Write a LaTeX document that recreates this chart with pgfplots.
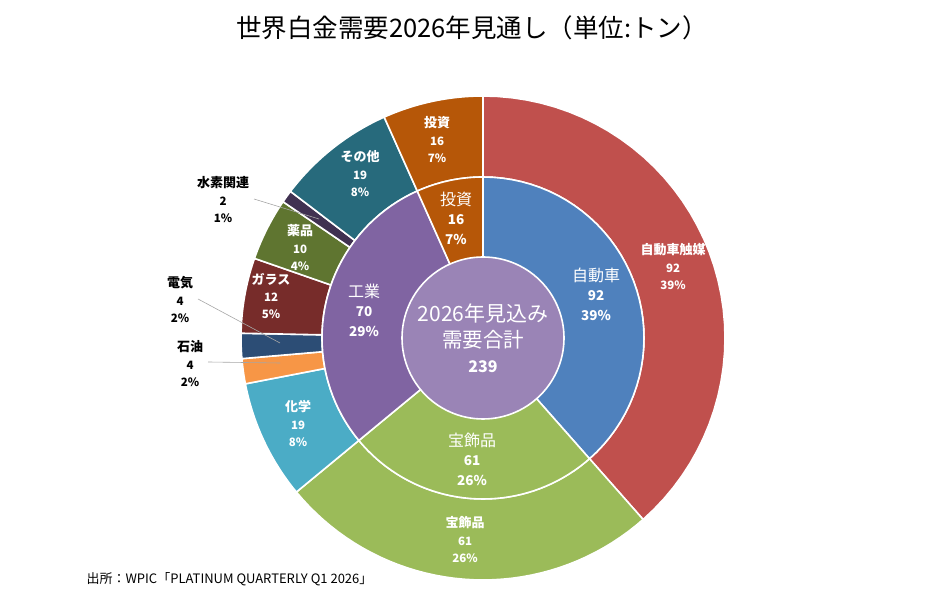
\documentclass[border=0pt]{standalone}
\usepackage{pgfplots}
\pgfplotsset{compat=1.18}
\usepackage{fontspec}
\setmainfont{Noto Sans CJK JP}
\definecolor{cCat}{HTML}{C0504D}
\definecolor{cAuto}{HTML}{4F81BD}
\definecolor{cJew}{HTML}{9BBB59}
\definecolor{cChem}{HTML}{4BACC6}
\definecolor{cOil}{HTML}{F79646}
\definecolor{cElec}{HTML}{2C4D75}
\definecolor{cGlass}{HTML}{772C2A}
\definecolor{cMed}{HTML}{5F7530}
\definecolor{cHyd}{HTML}{403151}
\definecolor{cOther}{HTML}{276A7C}
\definecolor{cInv}{HTML}{B65708}
\definecolor{cInd}{HTML}{8064A2}
\definecolor{cCtr}{HTML}{9A84B6}
% sector: #1 start cumulative value, #2 end cumulative value (total 239), #3 inner r, #4 outer r, #5 colour
\newcommand{\sector}[5]{%
\addplot[fill=#5, draw=white, line width=1.6pt, domain=0:81, samples=82, variable=\t]
 ({(\t<40.5 ? #4 : #3)*cos(90-(\t<40.5 ? (#1)+((#2)-(#1))*\t/40 : (#2)-((#2)-(#1))*(\t-41)/40)*360/239)},
  {(\t<40.5 ? #4 : #3)*sin(90-(\t<40.5 ? (#1)+((#2)-(#1))*\t/40 : (#2)-((#2)-(#1))*(\t-41)/40)*360/239)}) -- cycle;
}
\newcommand{\labO}[6]{% x y name value pct colour
\node[text=#6, font=\bfseries\fontsize{13}{14}\selectfont] at (axis cs:#1,#2) {#3};
\node[text=#6, font=\bfseries\fontsize{11.5}{12}\selectfont] at (axis cs:#1,#2-18) {#4};
\node[text=#6, font=\bfseries\fontsize{11.5}{12}\selectfont] at (axis cs:#1,#2-35) {#5};
}
\newcommand{\labI}[5]{% x y name value pct
\node[text=white, font=\fontsize{16}{17}\selectfont] at (axis cs:#1,#2) {#3};
\node[text=white, font=\bfseries\fontsize{13.5}{14}\selectfont] at (axis cs:#1,#2-21) {#4};
\node[text=white, font=\bfseries\fontsize{13.5}{14}\selectfont] at (axis cs:#1,#2-40) {#5};
}
\begin{document}
\begin{tikzpicture}
\useasboundingbox (0,0) rectangle (945pt,615pt);
\begin{axis}[
  at={(0pt,0pt)}, anchor=south west,
  x=1pt, y=1pt, scale only axis,
  xmin=-483, xmax=462, ymin=-277, ymax=338,
  enlargelimits=false, hide axis, clip=false]
% outer ring (values in tonnes, cumulative clockwise from 12 o'clock)
\sector{0}{92}{161}{242}{cCat}     % 自動車触媒 92
\sector{92}{153}{161}{242}{cJew}   % 宝飾品 61
\sector{153}{172}{161}{242}{cChem} % 化学 19
\sector{172}{176}{161}{242}{cOil}  % 石油 4
\sector{176}{180}{161}{242}{cElec} % 電気 4
\sector{180}{192}{161}{242}{cGlass}% ガラス 12
\sector{192}{202}{161}{242}{cMed}  % 薬品 10
\sector{202}{204}{161}{242}{cHyd}  % 水素関連 2
\sector{204}{223}{161}{242}{cOther}% その他 19
\sector{223}{239}{161}{242}{cInv}  % 投資 16
% inner ring
\sector{0}{92}{0}{161}{cAuto}      % 自動車 92
\sector{92}{153}{0}{161}{cJew}     % 宝飾品 61
\sector{153}{223}{0}{161}{cInd}    % 工業 70
\sector{223}{239}{0}{161}{cInv}    % 投資 16
% centre disc
\addplot[fill=cCtr, draw=white, line width=1.6pt, domain=0:239, samples=121, variable=\t]
 ({81*cos(90-\t*360/239)},{81*sin(90-\t*360/239)}) -- cycle;
% leader lines
\addplot[gray!70, line width=0.6pt] coordinates {(-229,139) (-164,119)};
\addplot[gray!70, line width=0.6pt] coordinates {(-285,39) (-203,-5)};
\addplot[gray!70, line width=0.6pt] coordinates {(-275,-24) (-203,-25)};
% outer labels
\labO{-46}{215}{投資}{16}{7\%}{white}
\labO{-123}{181}{その他}{19}{8\%}{white}
\labO{-260}{155}{水素関連}{2}{1\%}{black}
\labO{-183}{107}{薬品}{10}{4\%}{white}
\labO{-212}{59}{ガラス}{12}{5\%}{white}
\labO{-303}{55}{電気}{4}{2\%}{black}
\labO{-293}{-9}{石油}{4}{2\%}{black}
\labO{-185}{-69}{化学}{19}{8\%}{white}
\labO{190}{88}{自動車触媒}{92}{39\%}{white}
\labO{-18}{-185}{宝飾品}{61}{26\%}{white}
% inner labels
\labI{-27}{139}{投資}{16}{7\%}
\labI{-119}{47}{工業}{70}{29\%}
\labI{113}{63}{自動車}{92}{39\%}
\labI{-11}{-102}{宝飾品}{61}{26\%}
% centre
\node[text=white, font=\fontsize{21}{22}\selectfont] at (axis cs:0,25) {2026年見込み};
\node[text=white, font=\fontsize{20.5}{21}\selectfont] at (axis cs:0,-2) {需要合計};
\node[text=white, font=\bfseries\fontsize{16}{17}\selectfont] at (axis cs:0,-29) {239};
% title and source
\node[text=black, font=\fontsize{25.5}{26}\selectfont] at (axis cs:-11,310) {世界白金需要2026年見通し（単位:トン）};
\node[text=black, anchor=west, font=\fontsize{13}{14}\selectfont] at (axis cs:-400,-241) {出所：WPIC「PLATINUM QUARTERLY Q1 2026」};
\end{axis}
\end{tikzpicture}
\end{document}
